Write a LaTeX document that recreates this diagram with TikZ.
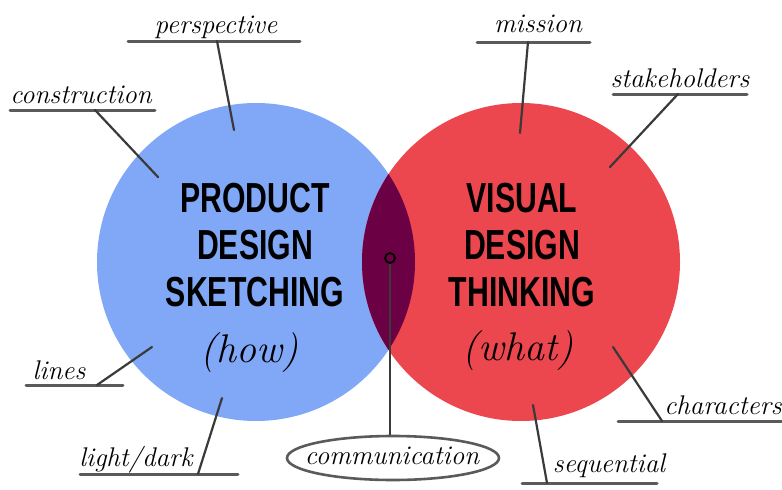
\documentclass[tikz,border=0pt]{standalone}
\usepackage{fontspec}
\setsansfont{Liberation Sans}
\usetikzlibrary{shapes.geometric}
\definecolor{blueC}{HTML}{80A8F6}
\definecolor{redC}{HTML}{EC464F}
\definecolor{lensC}{HTML}{6B0044}
\definecolor{leadC}{HTML}{3A3A3A}
\definecolor{ulC}{HTML}{5A5A5A}
\newcommand{\ttlfont}[1]{\scalebox{0.72}[1]{#1}}
\begin{document}
\begin{tikzpicture}[x=1pt,y=-1pt,
  lbl/.style={anchor=base,inner sep=0pt,font=\fontsize{27}{27}\selectfont\itshape},
  ttl/.style={anchor=center,inner sep=0pt,font=\fontsize{42}{42}\selectfont\sffamily\bfseries},
  sub/.style={anchor=center,inner sep=0pt,font=\fontsize{40}{40}\selectfont\itshape},
  leader/.style={draw=leadC,line width=2.2pt,line cap=round},
  uline/.style={draw=ulC,line width=3pt,line cap=round}]
\useasboundingbox (0,0) rectangle (782,490);
% circles
\fill[blueC] (256,262) circle (159pt);
\fill[redC] (521,262) circle (159pt);
\begin{scope}
  \clip (256,262) circle (159pt);
  \fill[lensC] (521,262) circle (159pt);
\end{scope}
% titles
\node[ttl] (p1) at (255,198) {\ttlfont{PRODUCT}};
\node[ttl] (p2) at (255,245) {\ttlfont{DESIGN}};
\node[ttl] (p3) at (255,292) {\ttlfont{SKETCHING}};
\node[ttl] (v1) at (522,198) {\ttlfont{VISUAL}};
\node[ttl] (v2) at (522,245) {\ttlfont{DESIGN}};
\node[ttl] (v3) at (522,292) {\ttlfont{THINKING}};
\node[sub] (how) at (249,353) {(how)};
\node[sub] (what) at (518,351) {(what)};
% labels
\node[lbl] (persp) at (216,33) {perspective};
\coordinate (perspA) at (128,41); \coordinate (perspB) at (300,41);
\coordinate (perspL) at (217,41); \coordinate (perspE) at (234,130);
\node[lbl] (constr) at (81,103) {construction};
\coordinate (constrA) at (10,110); \coordinate (constrB) at (155,110);
\coordinate (constrL) at (95,110); \coordinate (constrE) at (158,177);
\node[lbl] (miss) at (538,32) {mission};
\coordinate (missA) at (477,42); \coordinate (missB) at (590,42);
\coordinate (missL) at (528,42); \coordinate (missE) at (520,133);
\node[lbl] (stake) at (680,87) {stakeholders};
\coordinate (stakeA) at (613,94); \coordinate (stakeB) at (747,94);
\coordinate (stakeL) at (678,94); \coordinate (stakeE) at (610,167);
\node[lbl] (lines) at (59,379) {lines};
\coordinate (linesA) at (26,385); \coordinate (linesB) at (123,385);
\coordinate (linesL) at (97,385); \coordinate (linesE) at (152,347);
\node[lbl] (ld) at (136,466) {light/dark};
\coordinate (ldA) at (80,474); \coordinate (ldB) at (238,474);
\coordinate (ldL) at (198,474); \coordinate (ldE) at (222,398);
\node[lbl] (seq) at (609,472) {sequential};
\coordinate (seqA) at (522,483); \coordinate (seqB) at (657,483);
\coordinate (seqL) at (547,483); \coordinate (seqE) at (533,405);
\node[lbl] (chars) at (723,414) {characters};
\coordinate (charsA) at (618,421); \coordinate (charsB) at (782,421);
\coordinate (charsL) at (662,421); \coordinate (charsE) at (613,347);
\node[draw=ulC,line width=2.6pt,ellipse,minimum width=212pt,minimum height=44pt,inner sep=0pt] (commE) at (393,458) {};
\node[lbl] (comm) at (392,464) {communication};
\node[draw=black,line width=1.8pt,circle,inner sep=0pt,minimum size=10pt] (dot) at (390,258) {};
% underlines and leaders
\foreach \n in {persp,constr,miss,stake,lines,ld,seq,chars}{
  \draw[uline] (\n A) -- (\n B);
  \draw[leader] (\n L) -- (\n E);
}
\draw[leadC,line width=2pt] (dot.south) -- (dot.south |- commE.north);
\end{tikzpicture}
\end{document}
